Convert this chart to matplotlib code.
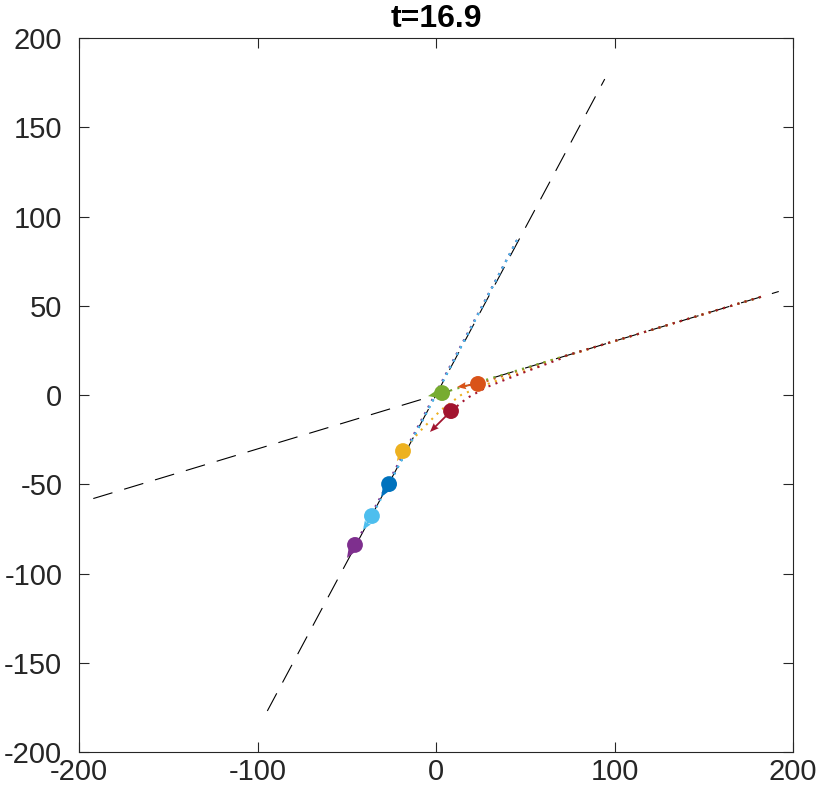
import matplotlib
matplotlib.use("Agg")
import matplotlib.pyplot as plt
import numpy as np

plt.rcParams['font.family'] = ['Liberation Sans', 'DejaVu Sans']
plt.rcParams['axes.unicode_minus'] = False

# roads (dashed black lines)
road1_x = [-94.5, 94.5]
road1_y = [-177.0, 177.0]
road2_x = [-192.0, 192.0]
road2_y = [-58.0, 58.0]

# vehicle names, colours, current positions and velocity arrows
names = ['blue', 'orange', 'yellow', 'purple', 'green', 'lightblue', 'red']
colors = ['#0072BD', '#D95319', '#EDB120', '#7E2F8E', '#77AC30', '#4DBEEE', '#A2142F']
pos_x = [-26.3, 23.5, -18.5, -45.4, 3.4, -35.9, 8.4]
pos_y = [-49.9, 6.2, -31.4, -84.0, 1.1, -67.8, -9.0]
vel_x = [-4.5, -11.7, -3.4, -4.5, -7.9, -5.0, -11.8]
vel_y = [-7.3, -1.7, -5.6, -7.3, -1.7, -7.8, -11.7]

# trails (history of each vehicle)
trail_x = {
    'blue':      [45.4, -26.3],
    'orange':    [182.0, 60.0, 23.5],
    'yellow':    [182.0, 62.0, 58.3, 41.5, 30.3, 23.0, 14.0, 2.8, -7.3, -13.4, -18.5],
    'purple':    [45.4, -45.4],
    'green':     [182.0, 3.4],
    'lightblue': [45.4, -35.9],
    'red':       [182.0, 72.0, 69.5, 52.7, 39.8, 28.6, 17.4, 8.4],
}
trail_y = {
    'blue':      [86.8, -49.9],
    'orange':    [55.0, 18.0, 6.2],
    'yellow':    [55.0, 18.7, 16.2, 10.6, 6.7, 3.9, 0.0, -8.4, -18.5, -25.2, -31.4],
    'purple':    [86.8, -84.0],
    'green':     [55.0, 1.1],
    'lightblue': [86.8, -67.8],
    'red':       [55.0, 21.8, 20.2, 14.0, 9.0, 4.5, -1.7, -9.0],
}

title = 't=16.9'
ticks_x = [-200, -100, 0, 100, 200]
ticks_y = [-200, -150, -100, -50, 0, 50, 100, 150, 200]

fig = plt.figure(figsize=(8.23, 7.94), dpi=100)
ax = fig.add_axes([0.096, 0.0529, 0.8676, 0.8992])

dash = (0, (18, 11))
ax.plot(road1_x, road1_y, color='k', lw=0.8, linestyle=dash)
ax.plot(road2_x, road2_y, color='k', lw=0.8, linestyle=dash)

for n, c in zip(names, colors):
    ax.plot(trail_x[n], trail_y[n], color=c, lw=1.5, linestyle=(0, (1.0, 2.6)))

ax.quiver(pos_x, pos_y, vel_x, vel_y, color=colors, angles='xy',
          scale_units='xy', scale=1, width=0.0025, headwidth=4,
          headlength=5, headaxislength=4.5, zorder=3)
ax.scatter(pos_x, pos_y, s=130, c=colors, zorder=4, linewidths=0)

ax.set_xlim(-200, 200)
ax.set_ylim(-200, 200)
ax.set_xticks(ticks_x)
ax.set_yticks(ticks_y)
ax.tick_params(direction='in', length=7, width=0.8, top=True, right=True,
               labelsize=21, colors='#262626', pad=4)
ax.tick_params(axis='y', pad=12)
for s in ax.spines.values():
    s.set_color('#262626')
    s.set_linewidth(0.8)
ax.set_title(title, fontsize=23, fontweight='bold', pad=8)

fig.savefig('out.png', dpi=100)
